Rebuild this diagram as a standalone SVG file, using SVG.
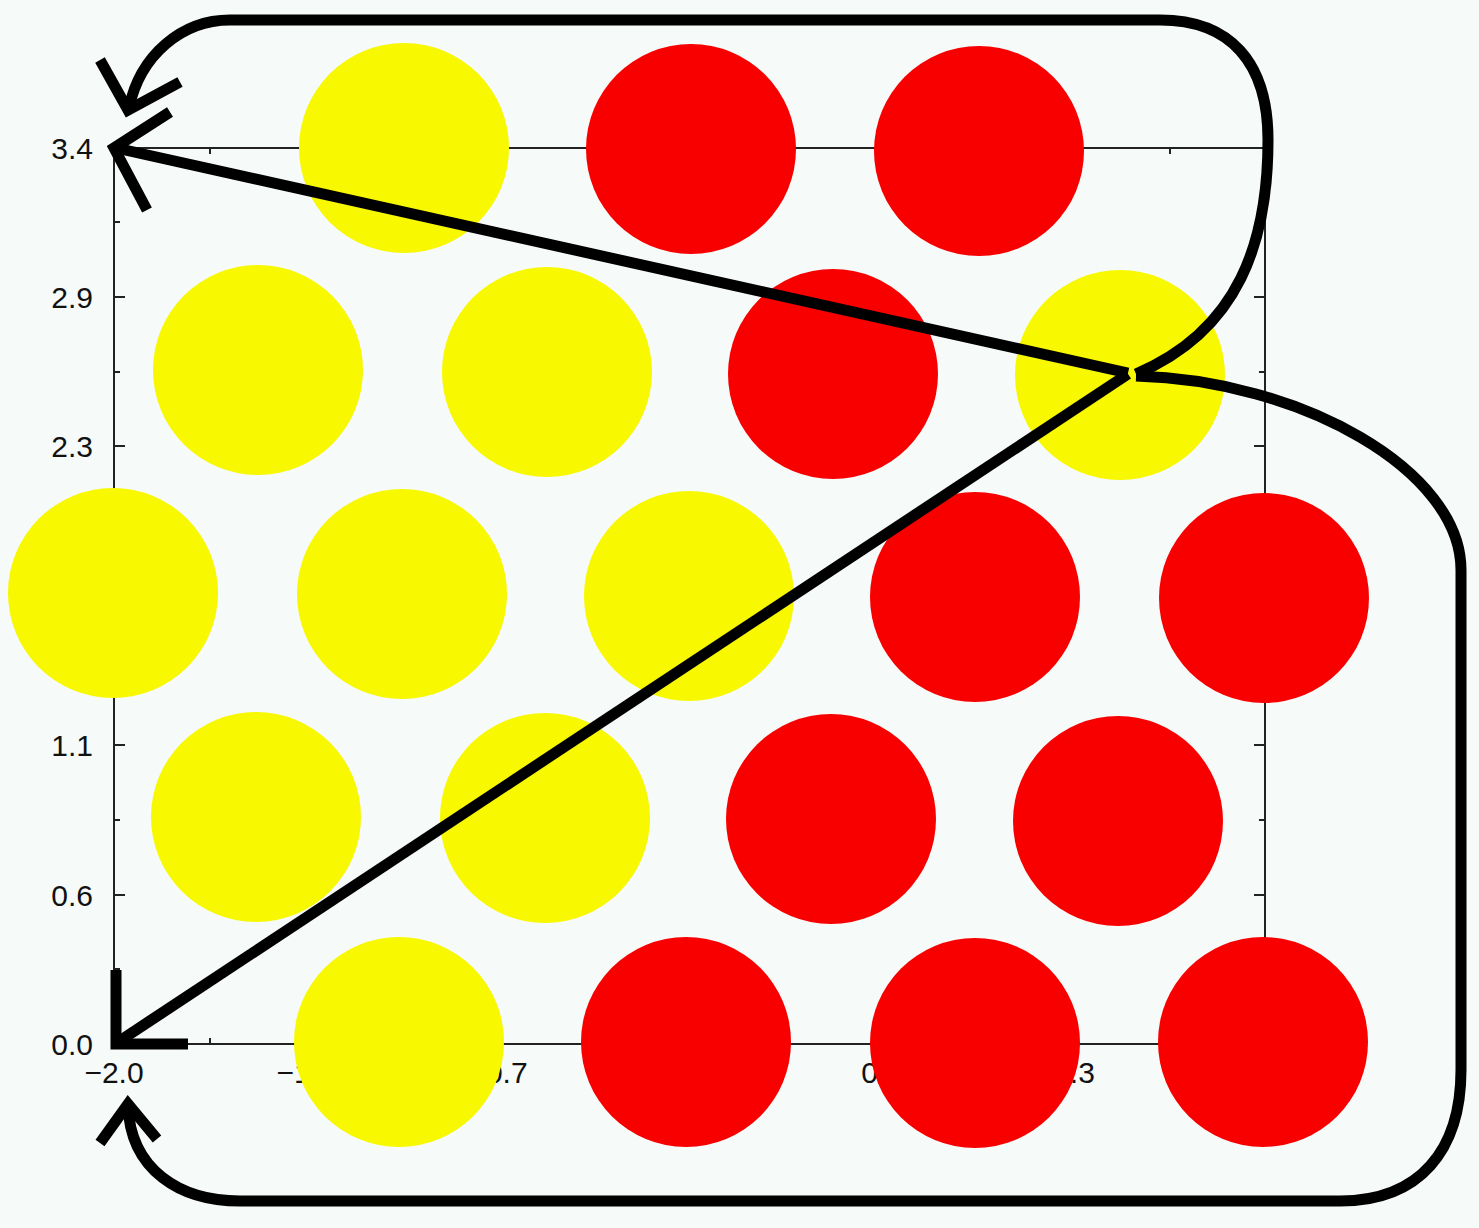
<svg xmlns="http://www.w3.org/2000/svg" width="1479" height="1228" viewBox="0 0 1479 1228">
<style>
.bg{fill:#f6faf8}
.frame{fill:none;stroke:#222;stroke-width:2}
.tick{stroke:#222;stroke-width:2}
.lbl{font-family:"Liberation Sans",Arial,sans-serif;font-size:30px;fill:#111}
.yl{text-anchor:end}
.xl{text-anchor:middle}
.y{fill:#f8f800}
.r{fill:#f80000}
.con{fill:none;stroke:#000;stroke-width:11;stroke-linejoin:miter;stroke-linecap:butt}
</style>
<rect class="bg" x="0" y="0" width="1479" height="1228"/>
<g id="axes">
<rect class="frame" x="114" y="148" width="1151" height="896"/>
<path class="tick" d="M114,297h11M114,446h11M114,595h11M114,745h11M114,895h11M114,222h6M114,372h6M114,521h6M114,670h6M114,820h6M114,969h6M1265,297h-11M1265,446h-11M1265,595h-11M1265,745h-11M1265,895h-11M1265,222h-6M1265,372h-6M1265,521h-6M1265,670h-6M1265,820h-6M1265,969h-6M306,1044v-11M498,1044v-11M690,1044v-11M882,1044v-11M1074,1044v-11M210,1044v-6M402,1044v-6M594,1044v-6M786,1044v-6M978,1044v-6M1170,1044v-6M306,148v11M498,148v11M690,148v11M882,148v11M1074,148v11M210,148v6M402,148v6M594,148v6M786,148v6M978,148v6M1170,148v6"/>
<text class="lbl yl" x="93" y="159">3.4</text>
<text class="lbl yl" x="93" y="308">2.9</text>
<text class="lbl yl" x="93" y="457">2.3</text>
<text class="lbl yl" x="93" y="756">1.1</text>
<text class="lbl yl" x="93" y="906">0.6</text>
<text class="lbl yl" x="93" y="1055">0.0</text>
<text class="lbl xl" x="114" y="1083">−2.0</text>
<text class="lbl xl" x="306" y="1083">−1.3</text>
<text class="lbl xl" x="498" y="1083">−0.7</text>
<text class="lbl xl" x="882" y="1083">0.6</text>
<text class="lbl xl" x="1074" y="1083">1.3</text>
</g>
<g id="nodes">
<g id="n1"><circle class="y" cx="404" cy="148" r="105"/></g>
<g id="n2"><circle class="r" cx="691" cy="149" r="105"/></g>
<g id="n3"><circle class="r" cx="979" cy="151" r="105"/></g>
<g id="n4"><circle class="y" cx="258" cy="370" r="105"/></g>
<g id="n5"><circle class="y" cx="547" cy="372" r="105"/></g>
<g id="n6"><circle class="r" cx="833" cy="374" r="105"/></g>
<g id="n7"><circle class="y" cx="1120" cy="375" r="105"/></g>
<g id="n8"><circle class="y" cx="113" cy="593" r="105"/></g>
<g id="n9"><circle class="y" cx="402" cy="594" r="105"/></g>
<g id="n10"><circle class="y" cx="689" cy="596" r="105"/></g>
<g id="n11"><circle class="r" cx="975" cy="597" r="105"/></g>
<g id="n12"><circle class="r" cx="1264" cy="598" r="105"/></g>
<g id="n13"><circle class="y" cx="256" cy="817" r="105"/></g>
<g id="n14"><circle class="y" cx="545" cy="818" r="105"/></g>
<g id="n15"><circle class="r" cx="831" cy="819" r="105"/></g>
<g id="n16"><circle class="r" cx="1118" cy="821" r="105"/></g>
<g id="n17"><circle class="y" cx="399" cy="1042" r="105"/></g>
<g id="n18"><circle class="r" cx="686" cy="1042" r="105"/></g>
<g id="n19"><circle class="r" cx="975" cy="1043" r="105"/></g>
<g id="n20"><circle class="r" cx="1263" cy="1042" r="105"/></g>
</g>
<g id="connectors">
<path class="con" d="M1128,373 L116,148"/>
<path class="con" d="M170,112 L114,148 L147,210"/>
<path class="con" d="M1128,374 L118,1042"/>
<path class="con" d="M116,970 L116,1044 L188,1044"/>
<path class="con" d="M1136,374 C1240,330 1268,240 1268,140 C1268,62 1230,20 1160,20 L230,20 C182,20 140,55 129,108"/>
<path class="con" d="M100,60 L128,110 L180,82"/>
<path class="con" d="M1136,376 C1300,380 1461,470 1461,570 L1461,1070 C1461,1150 1420,1201 1340,1201 L240,1201 C180,1201 130,1170 128,1105"/>
<path class="con" d="M100,1143 L128,1104 L157,1139"/>
</g>
</svg>
